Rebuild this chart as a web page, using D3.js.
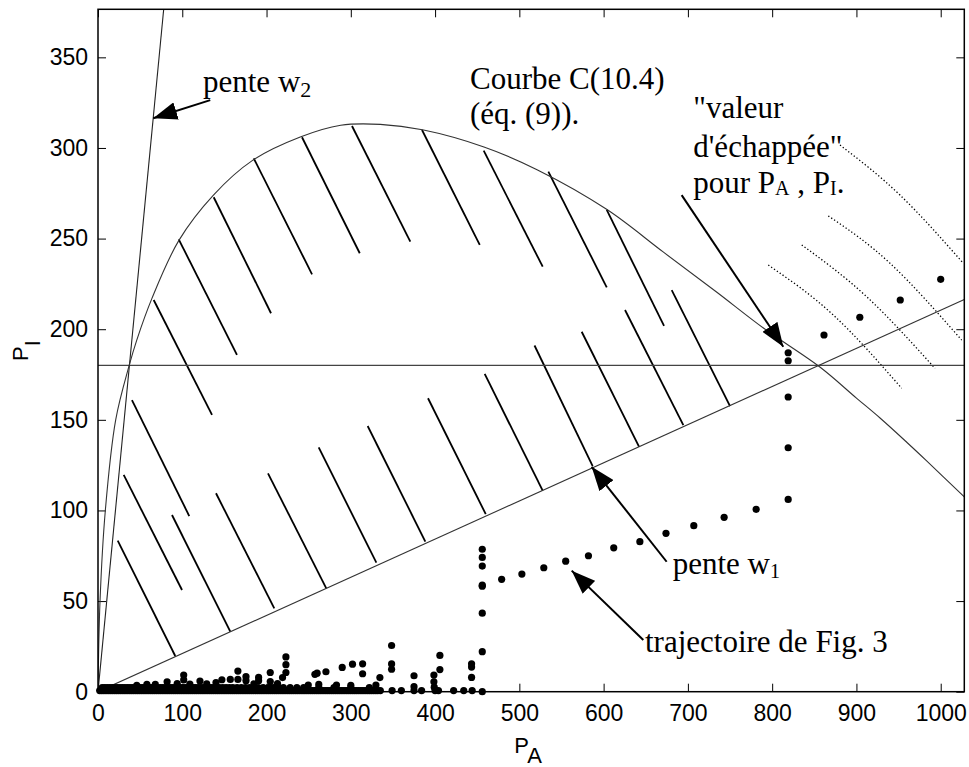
<!DOCTYPE html>
<html>
<head>
<meta charset="utf-8">
<script src="https://cdn.jsdelivr.net/npm/d3@7"></script>
<style>
  body { margin: 0; background: #fff; }
  svg { display: block; }
  .tick text { font-family: "Liberation Sans", Arial, sans-serif; font-size: 23px; fill: #000; }
  .note { font-family: "Liberation Serif", "Times New Roman", serif; font-size: 31px; fill: #000; }
  .axis-title { font-family: "Liberation Sans", Arial, sans-serif; font-size: 22px; fill: #000; }
</style>
</head>
<body>
<div class="canvas"></div>
<script>
// ---- data (P_A, P_I) ----
const xTicks = [0, 100, 200, 300, 400, 500, 600, 700, 800, 900, 1000];
const yTicks = [0, 50, 100, 150, 200, 250, 300, 350];

const slopeW1 = 0.2105;   // pente w1
const slopeW2 = 4.83;     // pente w2
const escapeLevel = 180;  // horizontal line

// courbe C(10.4)
const curveC = [
  [0, 0], [2.4, 50], [8.7, 100], [21, 150], [37, 180], [46, 194], [64, 217],
  [96, 249], [137, 274], [183, 293], [240, 306], [288, 312.5], [335, 313],
  [385, 310], [458, 300.5], [521, 288], [604, 266], [671, 242.5],
  [734, 220.5], [790, 200.5], [857, 179], [900, 162], [928, 151],
  [960, 137.5], [983, 127.5], [1028, 107.5]
];

// hatch segments [P_A1, P_I1, P_A2, P_I2]
const hatches = [
  [66.1, 216.1, 135.3, 152.7], [95.8, 249.6, 164.9, 185.8], [137.3, 272.8, 205.3, 208.8],
  [184.8, 294.3, 254, 230.3], [242.1, 305.9, 310.6, 241.9], [301.4, 312.1, 370.6, 248.3],
  [384.5, 309.9, 453, 246.5], [457.7, 298.5, 527.7, 234.5], [534.4, 286.9, 603.7, 223.1],
  [603.7, 265.8, 671.7, 201.8],
  [40.3, 160.9, 108.3, 96.9], [30.5, 119.6, 99.7, 56.1], [23.4, 83.3, 91.7, 19.7],
  [87.8, 97.5, 157, 33.1], [140, 109.5, 209.2, 46], [201.7, 120.5, 270.9, 57],
  [261.9, 134.8, 330.3, 71.2], [320, 146.6, 388.4, 82.8], [391.6, 161.9, 460.1, 98],
  [458.9, 175.3, 527.7, 110.9], [518, 191, 587, 124.5], [574, 198.6, 642, 135.2],
  [625.4, 210.6, 694.6, 147.1], [680.8, 221.6, 750, 157.6]
];

// dotted arcs near the escape value
const escapeArcs = [
  [[880.5, 301.6], [951.7, 274], [1026.8, 236.4]],
  [[866.6, 262.5], [939.8, 236.4], [1024.9, 194]],
  [[835.1, 246.5], [912.2, 217.9], [993.2, 178.4]],
  [[795.4, 235.4], [872.6, 207.8], [953.7, 167.4]]
];

// trajectoire de Fig. 3 : escape part
const trajectory = [
  [456, 0], [456, 22.1], [456, 43.3], [456, 58.2], [456, 58.8], [456, 69.3], [456, 74.1], [456, 78.6],
  [479, 62], [503, 64.9], [529, 68.4], [555, 72], [582, 75], [612, 79.4], [643, 82.8],
  [674, 87.4], [707, 91.6], [743, 96.2], [781, 100.6], [819, 106.1], [819, 134.6],
  [819, 162.6], [819, 182.6], [819, 187], [861.5, 196.8], [904, 206.6], [952, 216.1], [1000, 227.5]
];

// trajectory : noisy phase near P_I = 0 (bottom row, P_A values)
const noiseBase = [
  2, 4.5, 7, 9.5, 12, 14.5, 17, 19.5, 22, 24.5, 27, 29.5, 32, 34.5, 37, 39.5, 42, 44.5, 47, 49.5,
  52, 54.5, 57, 59.5, 62, 64.5, 67, 69.5, 72, 74.5, 77, 79.5, 82, 84.5, 87, 89.5, 92, 94.5, 97,
  99.5, 102, 104.5, 107, 109.5, 112, 114.5, 117, 119.5, 122, 124.5, 127, 129.5, 132, 134.5, 137,
  139.5, 142, 144.5, 147, 149.5, 152, 154.5, 157, 159.5, 162, 164.5, 167, 169.5, 172, 174.5, 177,
  179.5, 182, 184.5, 187, 189.5, 192, 194.5, 197, 199.5, 202, 204.5, 207, 209.5, 212, 214.5, 217,
  219.5, 222, 224.5, 227, 229.5, 232, 234.5, 237, 239.5, 242, 244.5, 247, 249.5, 252, 254.5, 257,
  259.5, 262, 264.5, 267, 269.5, 272, 274.5, 277, 279.5, 282, 284.5, 287, 289.5, 292, 294.5, 297,
  299.5, 302, 304.5, 307, 309.5, 312, 314.5, 317, 319.5, 322, 324.5, 327, 329.5, 332, 335,
  349, 360, 375, 384, 400, 404, 422, 434, 444
];
// second row of the noisy phase (P_A values)
const noiseMid = [
  5, 8, 11, 14, 17, 20, 23, 26, 29, 32, 35, 38, 41, 44, 47, 50, 53, 56, 59, 62, 65, 68, 71, 74,
  77, 80, 83, 86, 89, 92, 95, 98, 101, 104, 107, 110, 113, 116, 119, 122, 125, 128, 131, 134,
  137, 140, 144, 148, 152, 156, 160, 165, 170, 175, 180, 185, 190, 196, 202, 208, 214, 220,
  228, 236, 244, 262, 280, 300, 322
];
const noiseRaised = [
  [46, 3.5], [58, 4], [68, 4], [82, 5.5], [94, 4.5], [109, 4.2], [129, 4.3], [140, 5], [185, 4.3],
  [213, 4.5], [249.5, 3.7], [262, 4], [283, 3.7], [300, 3.5], [329.8, 3.7], [375, 2.8], [399, 2.5],
  [101.7, 9.2], [101.7, 6.5], [121, 5.9], [147, 6.6], [157, 6.8], [166, 11.4], [166, 6.8],
  [175.6, 8.3], [175.6, 6.1], [190.6, 7.9], [190.6, 6.1], [204.4, 10.6], [204.4, 5.6],
  [223, 19.2], [223, 14.9], [223, 10.6], [219, 7.8], [257.4, 9.6], [260, 10.2], [270.5, 11],
  [289.8, 13.4], [302, 15.2], [314, 15.4], [314, 9.9], [334.5, 7.8], [348.4, 25.5], [348.4, 15.3],
  [348.4, 12.4], [375, 8.8], [398.6, 9.2], [398.6, 5.5], [405.7, 20], [405.7, 12.2],
  [443.3, 15.4], [443.3, 13.6], [443.3, 7.9]
];

// annotations: anchor (P_A, P_I) and text parts [text, dy, size]
const notes = [
  { at: [124.6, 331], parts: [['pente w', 0, 31], ['2', 5, 22]] },
  { at: [441.4, 332.4], parts: [['Courbe C(10.4)', 0, 31]] },
  { at: [441.4, 313.2], parts: [['(éq. (9)).', 0, 31]] },
  { at: [706.4, 316.4], parts: [['"valeur', 0, 31]] },
  { at: [706.4, 295.2], parts: [['d\'échappée"', 0, 31]] },
  { at: [706.4, 275], parts: [['pour P', 0, 31], ['A', 2, 20], [' , P', -2, 31], ['I', 2, 20], ['.', -2, 31]] },
  { at: [682, 64.8], parts: [['pente w', 0, 31], ['1', 4, 20]] },
  { at: [649.1, 22.1], parts: [['trajectoire de Fig. 3', 0, 31]] }
];
const arrows = [
  { from: [133.2, 326.4], to: [65.5, 316.4] },
  { from: [692.6, 274], to: [813.2, 190.3] },
  { from: [674.8, 71.7], to: [585.8, 124.1] },
  { from: [647.1, 28.5], to: [562.1, 66.8] }
];

// ---- setup ----
const dims = { width: 969, height: 767 };
const margin = { top: 9.3, right: 4.7, bottom: 75.3, left: 98 };
const w = dims.width - margin.left - margin.right;
const h = dims.height - margin.top - margin.bottom;

const svg = d3.select('.canvas')
  .append('svg')
  .attr('width', dims.width)
  .attr('height', dims.height);

const defs = svg.append('defs');
defs.append('clipPath').attr('id', 'plot-clip')
  .append('rect').attr('width', w).attr('height', h);
defs.append('marker')
  .attr('id', 'head')
  .attr('viewBox', '0 0 10 10')
  .attr('refX', 10).attr('refY', 5)
  .attr('markerWidth', 24).attr('markerHeight', 18)
  .attr('markerUnits', 'userSpaceOnUse')
  .attr('preserveAspectRatio', 'none')
  .attr('orient', 'auto')
  .append('path').attr('d', 'M0,0L10,5L0,10Z').attr('fill', '#000');

const graph = svg.append('g')
  .attr('transform', `translate(${margin.left}, ${margin.top})`);

const x = d3.scaleLinear().domain([0, 1028]).range([0, w]);
const y = d3.scaleLinear().domain([0, 376.5]).range([h, 0]);
const xMax = x.domain()[1], yMax = y.domain()[1];

// axes with inward ticks on all four sides
const styleAxis = g => {
  g.select('.domain').remove();
  g.selectAll('.tick line').attr('stroke', '#000').attr('stroke-width', 1);
};
graph.append('g').attr('transform', `translate(0, ${h})`)
  .call(d3.axisBottom(x).tickValues(xTicks).tickFormat(d3.format('d'))
    .tickSizeInner(-8).tickSizeOuter(0).tickPadding(13))
  .call(styleAxis);
graph.append('g')
  .call(d3.axisLeft(y).tickValues(yTicks).tickFormat(d3.format('d'))
    .tickSizeInner(-8).tickSizeOuter(0).tickPadding(10))
  .call(styleAxis);
graph.append('g')
  .call(d3.axisTop(x).tickValues(xTicks).tickSizeInner(-8).tickSizeOuter(0).tickFormat(''))
  .call(styleAxis);
graph.append('g').attr('transform', `translate(${w}, 0)`)
  .call(d3.axisRight(y).tickValues(yTicks).tickSizeInner(-8).tickSizeOuter(0).tickFormat(''))
  .call(styleAxis);

const plot = graph.append('g').attr('clip-path', 'url(#plot-clip)');

// hatching
plot.selectAll('.hatch')
  .data(hatches)
  .enter().append('line')
  .attr('class', 'hatch')
  .attr('x1', d => x(d[0])).attr('y1', d => y(d[1]))
  .attr('x2', d => x(d[2])).attr('y2', d => y(d[3]))
  .attr('stroke', '#000').attr('stroke-width', 1.8);

// dotted arcs
plot.selectAll('.arc')
  .data(escapeArcs)
  .enter().append('path')
  .attr('class', 'arc')
  .attr('fill', 'none').attr('stroke', '#000').attr('stroke-width', 1.3)
  .attr('stroke-dasharray', '1.3,2.2')
  .attr('d', d3.line().x(d => x(d[0])).y(d => y(d[1])).curve(d3.curveNatural));

// horizontal escape level
plot.append('line')
  .attr('x1', 0).attr('x2', w)
  .attr('y1', y(escapeLevel)).attr('y2', y(escapeLevel))
  .attr('stroke', '#444').attr('stroke-width', 1.3);

// slope lines
plot.append('line')
  .attr('x1', x(0)).attr('y1', y(0))
  .attr('x2', x(xMax)).attr('y2', y(slopeW1 * xMax))
  .attr('stroke', '#333').attr('stroke-width', 1.1);
plot.append('line')
  .attr('x1', x(0)).attr('y1', y(0))
  .attr('x2', x(yMax / slopeW2)).attr('y2', y(yMax))
  .attr('stroke', '#222').attr('stroke-width', 1.1);

// courbe C
plot.append('path')
  .datum(curveC)
  .attr('fill', 'none').attr('stroke', '#333').attr('stroke-width', 1.1)
  .attr('d', d3.line().x(d => x(d[0])).y(d => y(d[1])).curve(d3.curveCatmullRom.alpha(0.5)));

// trajectory points
const dots = [].concat(
  noiseBase.map(a => [a, 0.6]),
  noiseMid.map(a => [a, 2.2]),
  noiseRaised,
  trajectory
);
graph.selectAll('.dot')
  .data(dots)
  .enter().append('circle')
  .attr('class', 'dot')
  .attr('cx', d => x(d[0])).attr('cy', d => y(d[1]))
  .attr('r', 3.6)
  .attr('fill', '#000');

// frame
graph.append('rect')
  .attr('width', w).attr('height', h)
  .attr('fill', 'none').attr('stroke', '#000').attr('stroke-width', 1.5);

// arrows
graph.selectAll('.arrow')
  .data(arrows)
  .enter().append('line')
  .attr('class', 'arrow')
  .attr('x1', d => x(d.from[0])).attr('y1', d => y(d.from[1]))
  .attr('x2', d => x(d.to[0])).attr('y2', d => y(d.to[1]))
  .attr('stroke', '#000').attr('stroke-width', 2)
  .attr('marker-end', 'url(#head)');

// annotation texts
const noteText = graph.selectAll('.note')
  .data(notes)
  .enter().append('text')
  .attr('class', 'note')
  .attr('x', d => x(d.at[0])).attr('y', d => y(d.at[1]));
noteText.selectAll('tspan')
  .data(d => d.parts)
  .enter().append('tspan')
  .attr('dy', p => p[1])
  .style('font-size', p => p[2] + 'px')
  .text(p => p[0]);

// axis titles
const xTitle = graph.append('text')
  .attr('class', 'axis-title')
  .attr('x', w / 2 - 3).attr('y', h + 61)
  .attr('text-anchor', 'middle');
xTitle.append('tspan').text('P');
xTitle.append('tspan').attr('dy', 10).text('A');

const yTitle = graph.append('text')
  .attr('class', 'axis-title')
  .attr('transform', `translate(${28.3 - margin.left}, ${h / 2}) rotate(-90)`)
  .attr('text-anchor', 'middle');
yTitle.append('tspan').text('P');
yTitle.append('tspan').attr('dy', 12).text('I');
</script>
</body>
</html>
